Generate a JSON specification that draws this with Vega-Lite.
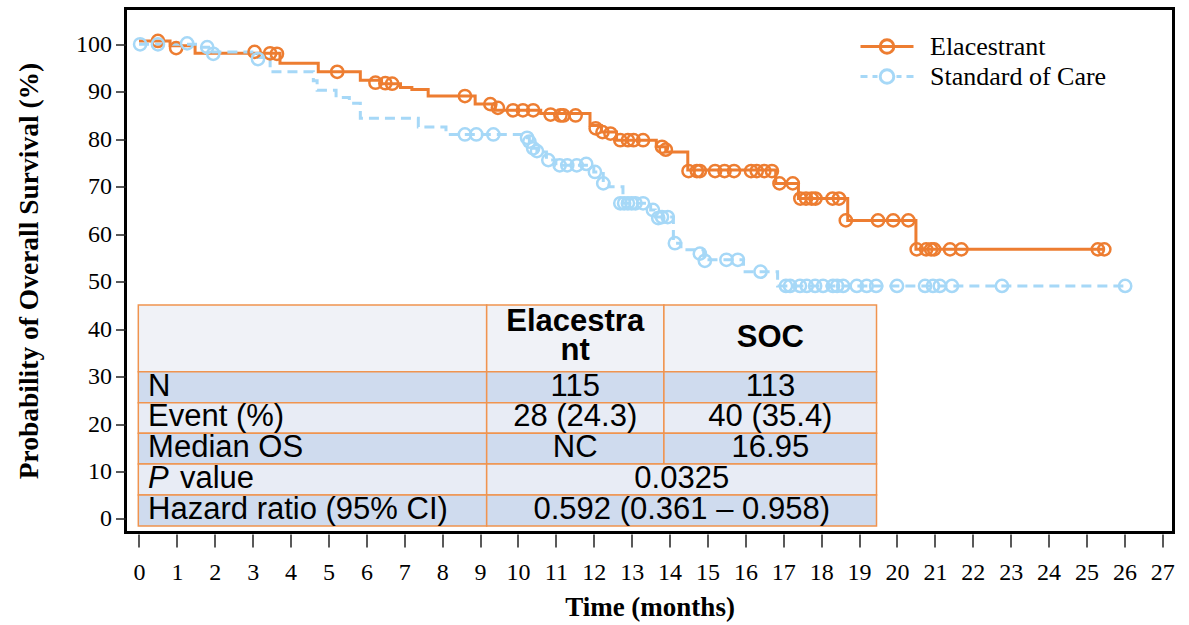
{
  "$schema": "https://vega.github.io/schema/vega-lite/v6.json",
  "width": 1048,
  "height": 524,
  "autosize": {"type": "none"},
  "padding": {"left": 125.5, "top": 8.5, "right": 15.5, "bottom": 92.5},
  "background": "white",
  "config": {
    "view": {"stroke": "black", "strokeWidth": 3},
    "font": "Liberation Serif",
    "axis": {
      "grid": false, "domain": false,
      "labelFont": "Liberation Serif", "labelFontSize": 24, "labelColor": "black",
      "tickColor": "#222", "tickWidth": 1.5,
      "titleFont": "Liberation Serif", "titleFontWeight": "bold", "titleColor": "black"
    }
  },
  "datasets": {
    "km": [
      {"arm": "Elacestrant", "time": 0, "surv": 100.7, "censored": 0},
      {"arm": "Elacestrant", "time": 0.82, "surv": 99.7, "censored": 0},
      {"arm": "Elacestrant", "time": 1.48, "surv": 98.1, "censored": 0},
      {"arm": "Elacestrant", "time": 3.72, "surv": 96.0, "censored": 0},
      {"arm": "Elacestrant", "time": 4.73, "surv": 94.2, "censored": 0},
      {"arm": "Elacestrant", "time": 5.84, "surv": 92.4, "censored": 0},
      {"arm": "Elacestrant", "time": 6.4, "surv": 91.7, "censored": 0},
      {"arm": "Elacestrant", "time": 6.9, "surv": 90.9, "censored": 0},
      {"arm": "Elacestrant", "time": 7.2, "surv": 90.5, "censored": 0},
      {"arm": "Elacestrant", "time": 7.63, "surv": 89.1, "censored": 0},
      {"arm": "Elacestrant", "time": 8.87, "surv": 87.4, "censored": 0},
      {"arm": "Elacestrant", "time": 9.4, "surv": 86.1, "censored": 0},
      {"arm": "Elacestrant", "time": 10.6, "surv": 85.4, "censored": 0},
      {"arm": "Elacestrant", "time": 11.9, "surv": 82.9, "censored": 0},
      {"arm": "Elacestrant", "time": 12.2, "surv": 81.5, "censored": 0},
      {"arm": "Elacestrant", "time": 12.6, "surv": 79.8, "censored": 0},
      {"arm": "Elacestrant", "time": 13.65, "surv": 78.4, "censored": 0},
      {"arm": "Elacestrant", "time": 13.9, "surv": 77.3, "censored": 0},
      {"arm": "Elacestrant", "time": 14.48, "surv": 73.5, "censored": 0},
      {"arm": "Elacestrant", "time": 16.8, "surv": 70.7, "censored": 0},
      {"arm": "Elacestrant", "time": 17.4, "surv": 67.5, "censored": 0},
      {"arm": "Elacestrant", "time": 18.7, "surv": 62.9, "censored": 0},
      {"arm": "Elacestrant", "time": 20.5, "surv": 56.8, "censored": 0},
      {"arm": "Elacestrant", "time": 25.47, "surv": 56.8, "censored": 0},
      {"arm": "Elacestrant", "time": 0.5, "surv": 100.7, "censored": 1},
      {"arm": "Elacestrant", "time": 0.98, "surv": 99.2, "censored": 1},
      {"arm": "Elacestrant", "time": 3.05, "surv": 98.4, "censored": 1},
      {"arm": "Elacestrant", "time": 3.46, "surv": 98.1, "censored": 1},
      {"arm": "Elacestrant", "time": 3.64, "surv": 98.0, "censored": 1},
      {"arm": "Elacestrant", "time": 5.23, "surv": 94.2, "censored": 1},
      {"arm": "Elacestrant", "time": 6.24, "surv": 91.9, "censored": 1},
      {"arm": "Elacestrant", "time": 6.5, "surv": 91.8, "censored": 1},
      {"arm": "Elacestrant", "time": 6.68, "surv": 91.7, "censored": 1},
      {"arm": "Elacestrant", "time": 8.6, "surv": 89.1, "censored": 1},
      {"arm": "Elacestrant", "time": 9.27, "surv": 87.4, "censored": 1},
      {"arm": "Elacestrant", "time": 9.47, "surv": 86.6, "censored": 1},
      {"arm": "Elacestrant", "time": 9.87, "surv": 86.1, "censored": 1},
      {"arm": "Elacestrant", "time": 10.13, "surv": 86.1, "censored": 1},
      {"arm": "Elacestrant", "time": 10.4, "surv": 86.1, "censored": 1},
      {"arm": "Elacestrant", "time": 10.86, "surv": 85.2, "censored": 1},
      {"arm": "Elacestrant", "time": 11.12, "surv": 85.0, "censored": 1},
      {"arm": "Elacestrant", "time": 11.2, "surv": 85.0, "censored": 1},
      {"arm": "Elacestrant", "time": 11.52, "surv": 85.0, "censored": 1},
      {"arm": "Elacestrant", "time": 12.05, "surv": 82.3, "censored": 1},
      {"arm": "Elacestrant", "time": 12.23, "surv": 81.5, "censored": 1},
      {"arm": "Elacestrant", "time": 12.44, "surv": 81.2, "censored": 1},
      {"arm": "Elacestrant", "time": 12.7, "surv": 79.8, "censored": 1},
      {"arm": "Elacestrant", "time": 12.9, "surv": 79.8, "censored": 1},
      {"arm": "Elacestrant", "time": 13.05, "surv": 79.8, "censored": 1},
      {"arm": "Elacestrant", "time": 13.3, "surv": 79.8, "censored": 1},
      {"arm": "Elacestrant", "time": 13.8, "surv": 78.4, "censored": 1},
      {"arm": "Elacestrant", "time": 13.9, "surv": 77.8, "censored": 1},
      {"arm": "Elacestrant", "time": 14.5, "surv": 73.3, "censored": 1},
      {"arm": "Elacestrant", "time": 14.72, "surv": 73.3, "censored": 1},
      {"arm": "Elacestrant", "time": 14.8, "surv": 73.3, "censored": 1},
      {"arm": "Elacestrant", "time": 15.2, "surv": 73.3, "censored": 1},
      {"arm": "Elacestrant", "time": 15.45, "surv": 73.3, "censored": 1},
      {"arm": "Elacestrant", "time": 15.7, "surv": 73.3, "censored": 1},
      {"arm": "Elacestrant", "time": 16.15, "surv": 73.3, "censored": 1},
      {"arm": "Elacestrant", "time": 16.3, "surv": 73.3, "censored": 1},
      {"arm": "Elacestrant", "time": 16.5, "surv": 73.3, "censored": 1},
      {"arm": "Elacestrant", "time": 16.7, "surv": 73.3, "censored": 1},
      {"arm": "Elacestrant", "time": 16.9, "surv": 70.7, "censored": 1},
      {"arm": "Elacestrant", "time": 17.25, "surv": 70.7, "censored": 1},
      {"arm": "Elacestrant", "time": 17.45, "surv": 67.5, "censored": 1},
      {"arm": "Elacestrant", "time": 17.6, "surv": 67.5, "censored": 1},
      {"arm": "Elacestrant", "time": 17.75, "surv": 67.5, "censored": 1},
      {"arm": "Elacestrant", "time": 17.85, "surv": 67.5, "censored": 1},
      {"arm": "Elacestrant", "time": 18.3, "surv": 67.5, "censored": 1},
      {"arm": "Elacestrant", "time": 18.47, "surv": 67.5, "censored": 1},
      {"arm": "Elacestrant", "time": 18.65, "surv": 62.9, "censored": 1},
      {"arm": "Elacestrant", "time": 19.5, "surv": 62.9, "censored": 1},
      {"arm": "Elacestrant", "time": 19.9, "surv": 62.9, "censored": 1},
      {"arm": "Elacestrant", "time": 20.3, "surv": 62.9, "censored": 1},
      {"arm": "Elacestrant", "time": 20.52, "surv": 56.8, "censored": 1},
      {"arm": "Elacestrant", "time": 20.77, "surv": 56.8, "censored": 1},
      {"arm": "Elacestrant", "time": 20.9, "surv": 56.8, "censored": 1},
      {"arm": "Elacestrant", "time": 20.98, "surv": 56.8, "censored": 1},
      {"arm": "Elacestrant", "time": 21.4, "surv": 56.8, "censored": 1},
      {"arm": "Elacestrant", "time": 21.7, "surv": 56.8, "censored": 1},
      {"arm": "Elacestrant", "time": 25.3, "surv": 56.8, "censored": 1},
      {"arm": "Elacestrant", "time": 25.47, "surv": 56.8, "censored": 1},
      {"arm": "Standard of Care", "time": 0, "surv": 100, "censored": 0},
      {"arm": "Standard of Care", "time": 1.55, "surv": 99.4, "censored": 0},
      {"arm": "Standard of Care", "time": 1.9, "surv": 98.4, "censored": 0},
      {"arm": "Standard of Care", "time": 3.15, "surv": 97.2, "censored": 0},
      {"arm": "Standard of Care", "time": 3.46, "surv": 94.2, "censored": 0},
      {"arm": "Standard of Care", "time": 4.6, "surv": 92.3, "censored": 0},
      {"arm": "Standard of Care", "time": 4.7, "surv": 90.3, "censored": 0},
      {"arm": "Standard of Care", "time": 5.2, "surv": 88.8, "censored": 0},
      {"arm": "Standard of Care", "time": 5.55, "surv": 87.6, "censored": 0},
      {"arm": "Standard of Care", "time": 5.84, "surv": 84.4, "censored": 0},
      {"arm": "Standard of Care", "time": 7.37, "surv": 82.6, "censored": 0},
      {"arm": "Standard of Care", "time": 8.1, "surv": 81.0, "censored": 0},
      {"arm": "Standard of Care", "time": 10.25, "surv": 80.3, "censored": 0},
      {"arm": "Standard of Care", "time": 10.3, "surv": 79.5, "censored": 0},
      {"arm": "Standard of Care", "time": 10.4, "surv": 78.1, "censored": 0},
      {"arm": "Standard of Care", "time": 10.5, "surv": 77.3, "censored": 0},
      {"arm": "Standard of Care", "time": 10.75, "surv": 75.6, "censored": 0},
      {"arm": "Standard of Care", "time": 11.0, "surv": 74.5, "censored": 0},
      {"arm": "Standard of Care", "time": 12.0, "surv": 73.1, "censored": 0},
      {"arm": "Standard of Care", "time": 12.25, "surv": 70.7, "censored": 0},
      {"arm": "Standard of Care", "time": 12.4, "surv": 70.0, "censored": 0},
      {"arm": "Standard of Care", "time": 12.77, "surv": 66.5, "censored": 0},
      {"arm": "Standard of Care", "time": 13.5, "surv": 65.1, "censored": 0},
      {"arm": "Standard of Care", "time": 13.62, "surv": 63.6, "censored": 0},
      {"arm": "Standard of Care", "time": 14.1, "surv": 58.1, "censored": 0},
      {"arm": "Standard of Care", "time": 14.3, "surv": 56.7, "censored": 0},
      {"arm": "Standard of Care", "time": 14.9, "surv": 54.6, "censored": 0},
      {"arm": "Standard of Care", "time": 15.95, "surv": 52.1, "censored": 0},
      {"arm": "Standard of Care", "time": 16.85, "surv": 49.1, "censored": 0},
      {"arm": "Standard of Care", "time": 26.05, "surv": 49.1, "censored": 0},
      {"arm": "Standard of Care", "time": 0.03, "surv": 100, "censored": 1},
      {"arm": "Standard of Care", "time": 0.5, "surv": 100, "censored": 1},
      {"arm": "Standard of Care", "time": 1.27, "surv": 100.2, "censored": 1},
      {"arm": "Standard of Care", "time": 1.8, "surv": 99.4, "censored": 1},
      {"arm": "Standard of Care", "time": 1.96, "surv": 98.0, "censored": 1},
      {"arm": "Standard of Care", "time": 3.14, "surv": 96.9, "censored": 1},
      {"arm": "Standard of Care", "time": 8.6, "surv": 81.0, "censored": 1},
      {"arm": "Standard of Care", "time": 8.9, "surv": 81.0, "censored": 1},
      {"arm": "Standard of Care", "time": 9.35, "surv": 81.0, "censored": 1},
      {"arm": "Standard of Care", "time": 10.24, "surv": 80.3, "censored": 1},
      {"arm": "Standard of Care", "time": 10.3, "surv": 79.5, "censored": 1},
      {"arm": "Standard of Care", "time": 10.4, "surv": 78.1, "censored": 1},
      {"arm": "Standard of Care", "time": 10.5, "surv": 77.5, "censored": 1},
      {"arm": "Standard of Care", "time": 10.8, "surv": 75.6, "censored": 1},
      {"arm": "Standard of Care", "time": 11.1, "surv": 74.5, "censored": 1},
      {"arm": "Standard of Care", "time": 11.3, "surv": 74.5, "censored": 1},
      {"arm": "Standard of Care", "time": 11.55, "surv": 74.5, "censored": 1},
      {"arm": "Standard of Care", "time": 11.8, "surv": 74.8, "censored": 1},
      {"arm": "Standard of Care", "time": 12.03, "surv": 73.1, "censored": 1},
      {"arm": "Standard of Care", "time": 12.25, "surv": 70.7, "censored": 1},
      {"arm": "Standard of Care", "time": 12.7, "surv": 66.5, "censored": 1},
      {"arm": "Standard of Care", "time": 12.8, "surv": 66.5, "censored": 1},
      {"arm": "Standard of Care", "time": 12.9, "surv": 66.5, "censored": 1},
      {"arm": "Standard of Care", "time": 13.0, "surv": 66.5, "censored": 1},
      {"arm": "Standard of Care", "time": 13.1, "surv": 66.5, "censored": 1},
      {"arm": "Standard of Care", "time": 13.3, "surv": 66.5, "censored": 1},
      {"arm": "Standard of Care", "time": 13.56, "surv": 65.1, "censored": 1},
      {"arm": "Standard of Care", "time": 13.7, "surv": 63.4, "censored": 1},
      {"arm": "Standard of Care", "time": 13.8, "surv": 63.6, "censored": 1},
      {"arm": "Standard of Care", "time": 13.95, "surv": 63.6, "censored": 1},
      {"arm": "Standard of Care", "time": 14.14, "surv": 58.1, "censored": 1},
      {"arm": "Standard of Care", "time": 14.8, "surv": 55.9, "censored": 1},
      {"arm": "Standard of Care", "time": 14.93, "surv": 54.4, "censored": 1},
      {"arm": "Standard of Care", "time": 15.5, "surv": 54.6, "censored": 1},
      {"arm": "Standard of Care", "time": 15.8, "surv": 54.6, "censored": 1},
      {"arm": "Standard of Care", "time": 16.4, "surv": 52.1, "censored": 1},
      {"arm": "Standard of Care", "time": 17.07, "surv": 49.1, "censored": 1},
      {"arm": "Standard of Care", "time": 17.18, "surv": 49.1, "censored": 1},
      {"arm": "Standard of Care", "time": 17.44, "surv": 49.1, "censored": 1},
      {"arm": "Standard of Care", "time": 17.62, "surv": 49.1, "censored": 1},
      {"arm": "Standard of Care", "time": 17.84, "surv": 49.1, "censored": 1},
      {"arm": "Standard of Care", "time": 18.05, "surv": 49.1, "censored": 1},
      {"arm": "Standard of Care", "time": 18.31, "surv": 49.1, "censored": 1},
      {"arm": "Standard of Care", "time": 18.42, "surv": 49.1, "censored": 1},
      {"arm": "Standard of Care", "time": 18.58, "surv": 49.1, "censored": 1},
      {"arm": "Standard of Care", "time": 18.94, "surv": 49.1, "censored": 1},
      {"arm": "Standard of Care", "time": 19.2, "surv": 49.1, "censored": 1},
      {"arm": "Standard of Care", "time": 19.45, "surv": 49.1, "censored": 1},
      {"arm": "Standard of Care", "time": 20.0, "surv": 49.1, "censored": 1},
      {"arm": "Standard of Care", "time": 20.74, "surv": 49.1, "censored": 1},
      {"arm": "Standard of Care", "time": 20.95, "surv": 49.1, "censored": 1},
      {"arm": "Standard of Care", "time": 21.13, "surv": 49.1, "censored": 1},
      {"arm": "Standard of Care", "time": 21.45, "surv": 49.1, "censored": 1},
      {"arm": "Standard of Care", "time": 22.77, "surv": 49.1, "censored": 1},
      {"arm": "Standard of Care", "time": 26.02, "surv": 49.1, "censored": 1}
    ],
    "cells": [
      {"time": -0.018, "time2": 9.174, "surv": 31.03, "surv2": 45.08, "shade": "head"},
      {"time": 9.174, "time2": 13.85, "surv": 31.03, "surv2": 45.08, "shade": "head"},
      {"time": 13.85, "time2": 19.46, "surv": 31.03, "surv2": 45.08, "shade": "head"},
      {"time": -0.018, "time2": 9.174, "surv": 24.5, "surv2": 31.03, "shade": "dark"},
      {"time": 9.174, "time2": 13.85, "surv": 24.5, "surv2": 31.03, "shade": "dark"},
      {"time": 13.85, "time2": 19.46, "surv": 24.5, "surv2": 31.03, "shade": "dark"},
      {"time": -0.018, "time2": 9.174, "surv": 18.05, "surv2": 24.5, "shade": "light"},
      {"time": 9.174, "time2": 13.85, "surv": 18.05, "surv2": 24.5, "shade": "light"},
      {"time": 13.85, "time2": 19.46, "surv": 18.05, "surv2": 24.5, "shade": "light"},
      {"time": -0.018, "time2": 9.174, "surv": 11.59, "surv2": 18.05, "shade": "dark"},
      {"time": 9.174, "time2": 13.85, "surv": 11.59, "surv2": 18.05, "shade": "dark"},
      {"time": 13.85, "time2": 19.46, "surv": 11.59, "surv2": 18.05, "shade": "dark"},
      {"time": -0.018, "time2": 9.174, "surv": 5.06, "surv2": 11.59, "shade": "light"},
      {"time": 9.174, "time2": 19.46, "surv": 5.06, "surv2": 11.59, "shade": "light"},
      {"time": -0.018, "time2": 9.174, "surv": -1.47, "surv2": 5.06, "shade": "dark"},
      {"time": 9.174, "time2": 19.46, "surv": -1.47, "surv2": 5.06, "shade": "dark"}
    ],
    "texts": [
      {"label": "Elacestra\nnt", "time": 11.51, "surv": 39.67, "role": "head"},
      {"label": "SOC", "time": 16.66, "surv": 36.3, "role": "head"},
      {"label": "N", "time": 0.24, "surv": 24.5, "role": "name"},
      {"label": "Event (%)", "time": 0.24, "surv": 18.05, "role": "name"},
      {"label": "Median OS", "time": 0.24, "surv": 11.59, "role": "name"},
      {"label": "P", "time": 0.24, "surv": 5.06, "role": "italic"},
      {"label": "value", "time": 1.08, "surv": 5.06, "role": "name"},
      {"label": "Hazard ratio (95% CI)", "time": 0.24, "surv": -1.47, "role": "name"},
      {"label": "115", "time": 11.51, "surv": 24.5, "role": "value"},
      {"label": "113", "time": 16.66, "surv": 24.5, "role": "value"},
      {"label": "28 (24.3)", "time": 11.51, "surv": 18.05, "role": "value"},
      {"label": "40 (35.4)", "time": 16.66, "surv": 18.05, "role": "value"},
      {"label": "NC", "time": 11.51, "surv": 11.59, "role": "value"},
      {"label": "16.95", "time": 16.66, "surv": 11.59, "role": "value"},
      {"label": "0.0325", "time": 14.32, "surv": 5.06, "role": "value"},
      {"label": "0.592 (0.361 – 0.958)", "time": 14.32, "surv": -1.47, "role": "value"}
    ]
  },
  "encoding": {
    "x": {"field": "time", "type": "quantitative", "scale": {"domain": [-0.356, 27.296], "nice": false, "zero": false},
      "axis": {"values": [0,1,2,3,4,5,6,7,8,9,10,11,12,13,14,15,16,17,18,19,20,21,22,23,24,25,26,27], "title": "Time (months)", "titleFontSize": 27, "tickSize": 13, "offset": 1.5, "labelPadding": 13, "titlePadding": 10}},
    "y": {"field": "surv", "type": "quantitative", "scale": {"domain": [-2.844, 107.54], "nice": false, "zero": false},
      "axis": {"values": [0,10,20,30,40,50,60,70,80,90,100], "title": "Probability of Overall Survival (%)", "titleFontSize": 27.5, "tickSize": 10, "labelPadding": 4, "titlePadding": 32}}
  },
  "layer": [
    {
      "data": {"name": "cells"},
      "mark": {"type": "rect", "stroke": "#F0944F", "strokeWidth": 1.5},
      "encoding": {
        "x2": {"field": "time2"},
        "y2": {"field": "surv2"},
        "fill": {"field": "shade", "type": "nominal", "scale": {"domain": ["head", "dark", "light"], "range": ["#F0F2F7", "#CFDBEE", "#E8ECF5"]}, "legend": null}
      }
    },
    {
      "data": {"name": "texts"},
      "transform": [{"filter": "datum.role === 'name'"}],
      "mark": {"type": "text", "align": "left", "baseline": "alphabetic", "dy": -7, "font": "Liberation Sans", "fontSize": 31, "color": "black"},
      "encoding": {"text": {"field": "label"}}
    },
    {
      "data": {"name": "texts"},
      "transform": [{"filter": "datum.role === 'italic'"}],
      "mark": {"type": "text", "align": "left", "baseline": "alphabetic", "dy": -7, "font": "Liberation Sans", "fontSize": 31, "fontStyle": "italic", "color": "black"},
      "encoding": {"text": {"field": "label"}}
    },
    {
      "data": {"name": "texts"},
      "transform": [{"filter": "datum.role === 'value'"}],
      "mark": {"type": "text", "align": "center", "baseline": "alphabetic", "dy": -7, "font": "Liberation Sans", "fontSize": 31, "color": "black"},
      "encoding": {"text": {"field": "label"}}
    },
    {
      "data": {"name": "texts"},
      "transform": [{"filter": "datum.role === 'head'"}],
      "mark": {"type": "text", "align": "center", "baseline": "alphabetic", "lineBreak": "\n", "lineHeight": 29.5, "font": "Liberation Sans", "fontSize": 31, "fontWeight": "bold", "color": "black"},
      "encoding": {"text": {"field": "label"}}
    },
    {
      "data": {"name": "km"},
      "transform": [{"filter": "datum.censored === 0 && datum.arm === 'Elacestrant'"}],
      "mark": {"type": "line", "interpolate": "step-after", "strokeWidth": 3, "stroke": "#ED7D31"}
    },
    {
      "data": {"name": "km"},
      "transform": [{"filter": "datum.censored === 0 && datum.arm === 'Standard of Care'"}],
      "mark": {"type": "line", "interpolate": "step-after", "strokeWidth": 3, "stroke": "#A6D8F7", "strokeDash": [10, 6]}
    },
    {
      "data": {"name": "km"},
      "transform": [{"filter": "datum.censored === 1 && datum.arm === 'Elacestrant'"}],
      "mark": {"type": "point", "filled": false, "shape": "circle", "size": 150, "strokeWidth": 2.5, "opacity": 1, "stroke": "#ED7D31"}
    },
    {
      "data": {"name": "km"},
      "transform": [{"filter": "datum.censored === 1 && datum.arm === 'Standard of Care'"}],
      "mark": {"type": "point", "filled": false, "shape": "circle", "size": 150, "strokeWidth": 2.5, "opacity": 1, "stroke": "#A6D8F7"}
    },
    {
      "data": {"name": "km"},
      "transform": [{"filter": "datum.time < -100"}],
      "mark": {"type": "point", "filled": false, "strokeWidth": 3, "opacity": 1},
      "encoding": {
        "color": {"field": "arm", "type": "nominal", "scale": {"domain": ["Elacestrant", "Standard of Care"], "range": ["#ED7D31", "#A6D8F7"]},
          "legend": {"orient": "none", "legendX": 748.5, "legendY": 25, "title": null, "padding": 0, "labelFont": "Liberation Serif", "labelFontSize": 26, "labelColor": "black", "labelLimit": 0, "labelOffset": 30, "symbolSize": 400, "symbolStrokeWidth": 3, "symbolOpacity": 1, "symbolFillColor": "transparent", "rowPadding": 4}},
        "shape": {"field": "arm", "type": "nominal", "scale": {"domain": ["Elacestrant", "Standard of Care"], "range": [
          "M-2.65,0H2.65M0.68,0A0.68,0.68,0,1,1,-0.68,0A0.68,0.68,0,1,1,0.68,0",
          "M-2.65,0H-1.95M-1.45,0H-0.95M0.95,0H1.45M1.95,0H2.65M0.68,0A0.68,0.68,0,1,1,-0.68,0A0.68,0.68,0,1,1,0.68,0"
        ]},
          "legend": {"orient": "none", "legendX": 748.5, "legendY": 25, "title": null, "padding": 0, "labelFont": "Liberation Serif", "labelFontSize": 26, "labelColor": "black", "labelLimit": 0, "labelOffset": 30, "symbolSize": 400, "symbolStrokeWidth": 3, "symbolOpacity": 1, "symbolFillColor": "transparent", "rowPadding": 4}}
      }
    }
  ]
}
